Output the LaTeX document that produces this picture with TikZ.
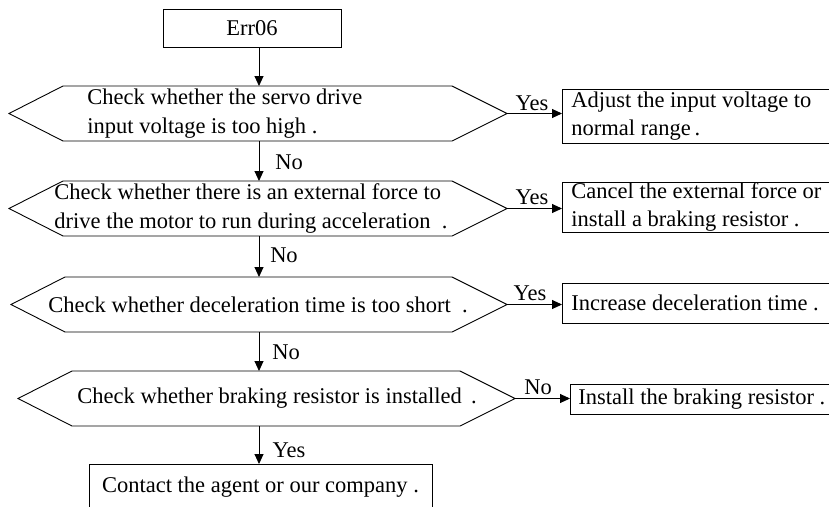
\documentclass[tikz,border=0pt]{standalone}
\usepackage{fontspec}
\setmainfont{Liberation Serif}
\usetikzlibrary{arrows.meta}
\begin{document}
\begin{tikzpicture}[x=1pt,y=-1pt,line width=0.9pt,
  txt/.style={font=\fontsize{22.5}{28.5}\selectfont,inner sep=0pt,align=left,anchor=west},
  lbl/.style={font=\fontsize{22.5}{28.5}\selectfont,inner sep=0pt},
  hexbody/.style={draw=none,inner sep=0pt,outer sep=0pt,minimum height=55pt},
  rbox/.style={draw,anchor=west,inner sep=0pt,outer sep=0pt,minimum width=340pt},
  arr/.style={-{Triangle[length=10pt,width=9pt]}}
]
\useasboundingbox (0,0) rectangle (829,506);
\clip (0,0) rectangle (829,506);

% start
\node[draw,minimum width=178pt,minimum height=38pt,inner sep=0pt,outer sep=0pt,
  font=\fontsize{22.5}{28.5}\selectfont] (err) at (252,28) {Err06};

% decision bodies
\node[hexbody,minimum width=389pt] (d1) at (257.5,113.5) {};
\node[hexbody,minimum width=389pt] (d2) at (257.5,208.5) {};
\node[hexbody,minimum width=387pt] (d3) at (258.5,304.5) {};
\node[hexbody,minimum width=388pt] (d4) at (266,398.5) {};
\coordinate (d1t) at ([xshift=55pt]d1.east);
\coordinate (d2t) at ([xshift=55pt]d2.east);
\coordinate (d3t) at ([xshift=55pt]d3.east);
\coordinate (d4t) at ([xshift=55pt]d4.east);
\foreach \d in {d1,d2,d3,d4}{
  \draw (\d.north west) -- (\d.north east) -- (\d t) -- (\d.south east)
    -- (\d.south west) -- ([xshift=-54pt]\d.west) -- cycle;
}

% decision texts
\node[txt] (t1) at (87,113.5) {Check whether the servo drive\\input voltage is too high .};
\node[txt] (t2) at (54,208.5) {Check whether there is an external force to\\drive the motor to run during acceleration\ \ .};
\node[txt] (t3) at (48,304.5) {Check whether deceleration time is too short\ \ .};
\node[txt] (t4) at (77,398.5) {Check whether braking resistor is installed\ \,.};

% right boxes
\node[rbox,minimum height=54pt] (r1) at (562,116) {};
\node[rbox,minimum height=50pt] (r2) at (562,207) {};
\node[rbox,minimum height=40pt] (r3) at (562,303) {};
\node[rbox,minimum height=30pt] (r4) at (570,399) {};
\node[txt] (r1t) at ([xshift=9pt]r1.west) {Adjust the input voltage to\\normal range\,.};
\node[txt] (r2t) at ([xshift=9pt]r2.west) {Cancel the external force or\\install a braking resistor\ .};
\node[txt] (r3t) at ([xshift=9pt]r3.west) {Increase deceleration time\ .};
\node[txt] (r4t) at ([xshift=8pt]r4.west) {Install the braking resistor\ .};

% final box
\node[draw,minimum width=343pt,minimum height=46pt,inner sep=0pt,outer sep=0pt,anchor=north,
  font=\fontsize{22.5}{28.5}\selectfont] (fin) at (260.5,464) {Contact the agent or our company\ .};

% vertical connectors
\coordinate (cx) at (259,0);
\draw[arr] (err.south -| cx) -- (d1.north -| cx);
\draw[arr] (d1.south -| cx) -- (d2.north -| cx);
\draw[arr] (d2.south -| cx) -- (d3.north -| cx);
\draw[arr] (d3.south -| cx) -- (d4.north -| cx);
\draw[arr] (d4.south -| cx) -- (fin.north -| cx);

% horizontal connectors
\draw[arr] (d1t) -- (r1.west |- d1t);
\draw[arr] (d2t) -- (r2.west |- d2t);
\draw[arr] (d3t) -- (r3.west |- d3t);
\draw[arr] (d4t) -- (r4.west |- d4t);

% labels
\node[lbl] (y1) at (532,103) {Yes};
\node[lbl] (y2) at (532,197) {Yes};
\node[lbl] (y3) at (530,293) {Yes};
\node[lbl] (n4) at (538,387) {No};
\node[lbl] (n1) at (289,162) {No};
\node[lbl] (n2) at (284,255) {No};
\node[lbl] (n3) at (286,352) {No};
\node[lbl] (y5) at (289,450) {Yes};
\end{tikzpicture}
\end{document}
